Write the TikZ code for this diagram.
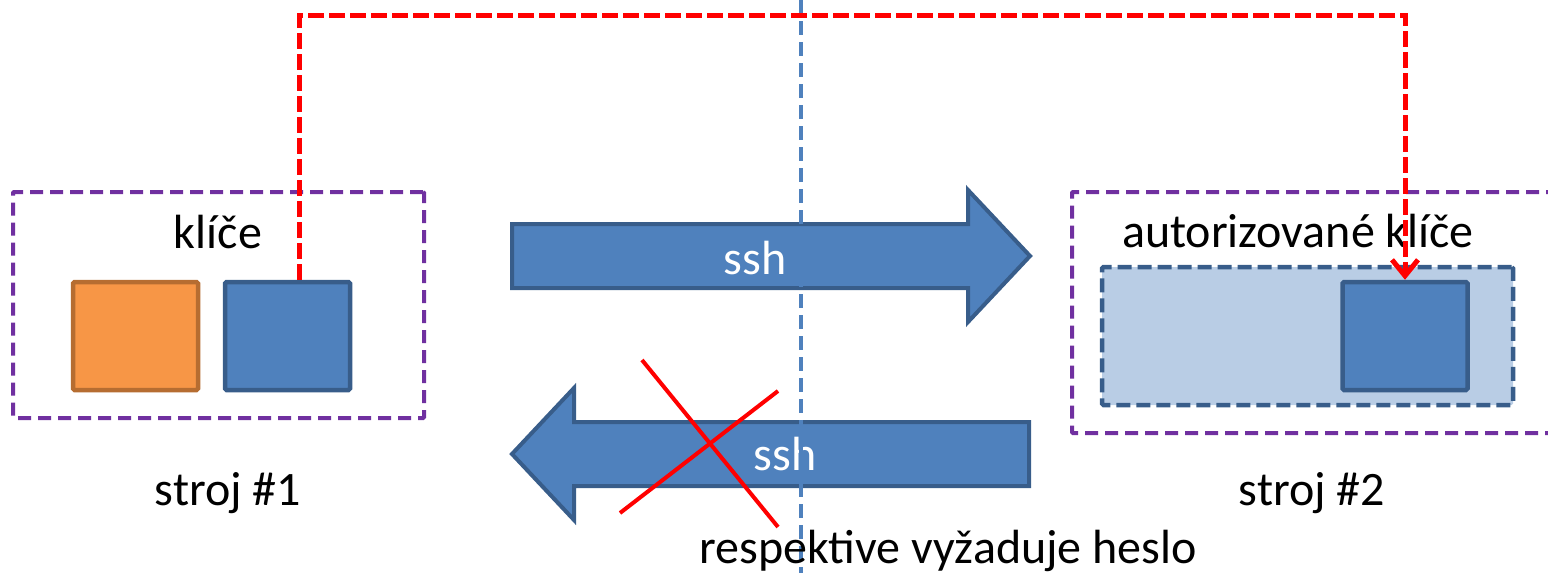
\documentclass[tikz,border=0pt]{standalone}
\usepackage{fontspec}
\setmainfont{Carlito}
\usetikzlibrary{arrows.meta,calc}
\definecolor{pptblue}{HTML}{4F81BD}
\definecolor{pptblueline}{HTML}{385D8A}
\definecolor{pptorange}{HTML}{F79646}
\definecolor{pptorangeline}{HTML}{B66D31}
\definecolor{pptpurple}{HTML}{7030A0}
\definecolor{pptlight}{HTML}{B9CDE5}
\definecolor{pptred}{HTML}{FF0000}
\tikzset{
  machinebox/.style={draw=pptpurple,line width=4pt,dash pattern=on 13pt off 7pt,rectangle,inner sep=0pt,rounded corners=1pt},
  keybox/.style={rectangle,inner sep=0pt,line width=4.5pt,minimum width=125pt,minimum height=108pt,rounded corners=1.5pt},
  bluekey/.style={keybox,fill=pptblue,draw=pptblueline},
  orangekey/.style={keybox,fill=pptorange,draw=pptorangeline},
  authstore/.style={rectangle,inner sep=0pt,fill=pptlight,draw=pptblueline,line width=4.5pt,dash pattern=on 14pt off 6pt,rounded corners=1.5pt},
  bigtext/.style={font=\fontsize{48}{57}\selectfont,inner sep=0pt,anchor=base},
  arrowtext/.style={bigtext,text=white},
  sshbody/.style={fill=pptblue,draw=pptblueline,line width=4pt,line join=miter},
  redlink/.style={draw=pptred,line width=5pt,dash pattern=on 16pt off 5pt},
  cross/.style={draw=pptred,line width=4pt},
  divider/.style={draw=pptblue,line width=4pt,dash pattern=on 14pt off 7pt}
}
\begin{document}
\begin{tikzpicture}[x=1pt,y=-1pt]
\useasboundingbox (0,0) rectangle (1548,573);
\clip (0,0) rectangle (1548,573);

% machine 1
\node[machinebox,minimum width=411pt,minimum height=226pt] (m1) at (218.5,305) {};
\node[bigtext] (keys) at (218,248) {klíče};
\node[orangekey] (k0) at (135.5,336) {};
\node[bluekey] (k1) at (287.5,336) {};
\node[bigtext] (s1) at (228,505) {stroj \#1};

% machine 2
\node[machinebox,minimum width=488pt,minimum height=241pt] (m2) at (1316,312.5) {};
\node[bigtext] (authlbl) at (1298,247) {autorizované klíče};
\node[authstore,minimum width=411pt,minimum height=138pt] (store) at (1307.5,336) {};
\node[bluekey] (ak) at (1405,336) {};
\node[bigtext] (s2) at (1312,505) {stroj \#2};

% arrows
\draw[sshbody] (512,224) -- (968,224) -- (968,190) -- (1030,256) -- (968,322) -- (968,288) -- (512,288) -- cycle;
\node[arrowtext] (ssh1) at (755,274) {ssh};
\draw[sshbody] (1029,422) -- (574,422) -- (574,388) -- (512,454) -- (574,520) -- (574,486) -- (1029,486) -- cycle;
\node[arrowtext] (ssh2) at (785,470) {ssh};

% red cross
\coordinate (xa1) at (642,360);
\coordinate (xa2) at (778,527);
\coordinate (xb1) at (620,513);
\coordinate (xb2) at (778,391);
\draw[cross] (xa1) -- (xa2);
\draw[cross] (xb1) -- (xb2);

% divider
\coordinate (dtop) at (801,0);
\coordinate (dbot) at (801,573);
\draw[divider] (dtop) -- (dbot);

\node[bigtext] (note) at (948,563) {respektive vyžaduje heslo};

% red key copy link
\coordinate (turn) at (1405,15);
\draw[redlink,-{Straight Barb[length=16pt,width=26pt]}] ($(k1.north west)+(77,0)$) |- (turn) -- (ak.north);
\end{tikzpicture}
\end{document}
